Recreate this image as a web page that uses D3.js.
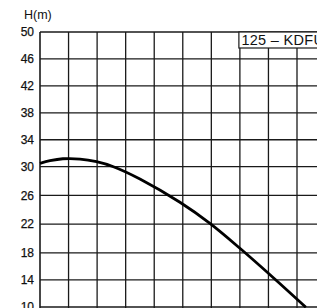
<!DOCTYPE html>
<html>
<head>
<meta charset="utf-8">
<script src="https://cdn.jsdelivr.net/npm/d3@7"></script>
<style>
    body { margin: 0; background: #fff; }
    svg { display: block; }
    text { font-family: "Liberation Sans", Arial, sans-serif; fill: #111; }
</style>
</head>
<body>
<div class="vis"></div>
<script>
// curve: q in grid cells, head in metres
const qValues = [0, 0.35, 0.8, 1.4, 1.98, 2.57, 3.5, 4.9, 5.95, 7.0, 8.23, 9.31];
const headValues = [30.5, 30.89, 31.18, 31.14, 30.74, 30.0, 28.29, 25.04, 22.1, 18.63, 14.1, 9.96];
const headTicks = [10, 14, 18, 22, 26, 30, 34, 38, 42, 46, 50];
const qTicks = [0, 1, 2, 3, 4, 5, 6, 7, 8, 9];
const yTitle = "H(m)";
const curveLabel = "125 – KDFU";

const dimensions = {
    width: 317,
    height: 308,
    left: 40,
    right: 317,
};

const svg = d3.select(".vis").append("svg")
    .attr("width", dimensions.width)
    .attr("height", dimensions.height);

const x = d3.scaleLinear()
    .domain([0, 9])
    .range([40, 297]);

// the scan is slightly uneven, so a few anchors
const y = d3.scaleLinear()
    .domain([10, 18, 30, 50])
    .range([307, 252.8, 166.7, 32]);

// grid
svg.append("g")
    .selectAll("line")
    .data(headTicks)
    .enter().append("line")
    .attr("x1", dimensions.left)
    .attr("x2", dimensions.right)
    .attr("y1", d => y(d))
    .attr("y2", d => y(d))
    .attr("stroke", "#1a1a1a")
    .attr("stroke-width", 1.3);

svg.append("g")
    .selectAll("line")
    .data(qTicks)
    .enter().append("line")
    .attr("x1", d => x(d))
    .attr("x2", d => x(d))
    .attr("y1", y(50))
    .attr("y2", dimensions.height)
    .attr("stroke", "#1a1a1a")
    .attr("stroke-width", d => d === 0 ? 1.6 : 1.3);

// y labels
const yAxis = d3.axisLeft(y).tickValues(headTicks).tickSize(0).tickPadding(6);
svg.append("g")
    .attr("transform", `translate(${dimensions.left},0)`)
    .call(yAxis)
    .call(g => g.select(".domain").remove())
    .selectAll("text")
    .style("font-family", "'Liberation Sans', Arial, sans-serif")
    .style("font-size", "12px")
    .attr("fill", "#111")
    .attr("stroke", "#111")
    .attr("stroke-width", 0.25);

svg.append("text")
    .attr("x", 24)
    .attr("y", 18.5)
    .style("font-size", "12.5px")
    .text(yTitle);

// pump curve
const points = qValues.map((q, i) => [q, headValues[i]]);
const line = d3.line()
    .x(d => x(d[0]))
    .y(d => y(d[1]))
    .curve(d3.curveCatmullRom.alpha(0.5));

svg.append("path")
    .datum(points)
    .attr("d", line)
    .attr("fill", "none")
    .attr("stroke", "#000")
    .attr("stroke-width", 2.8);

// label box
svg.append("rect")
    .attr("x", x(7) - 1)
    .attr("y", y(50))
    .attr("width", 100)
    .attr("height", 16)
    .attr("fill", "#fff")
    .attr("stroke", "#1a1a1a")
    .attr("stroke-width", 1.2);

svg.append("text")
    .attr("x", x(7) + 1.5)
    .attr("y", 45)
    .style("font-size", "14.5px")
    .attr("letter-spacing", 0.3)
    .text(curveLabel);
</script>
</body>
</html>
